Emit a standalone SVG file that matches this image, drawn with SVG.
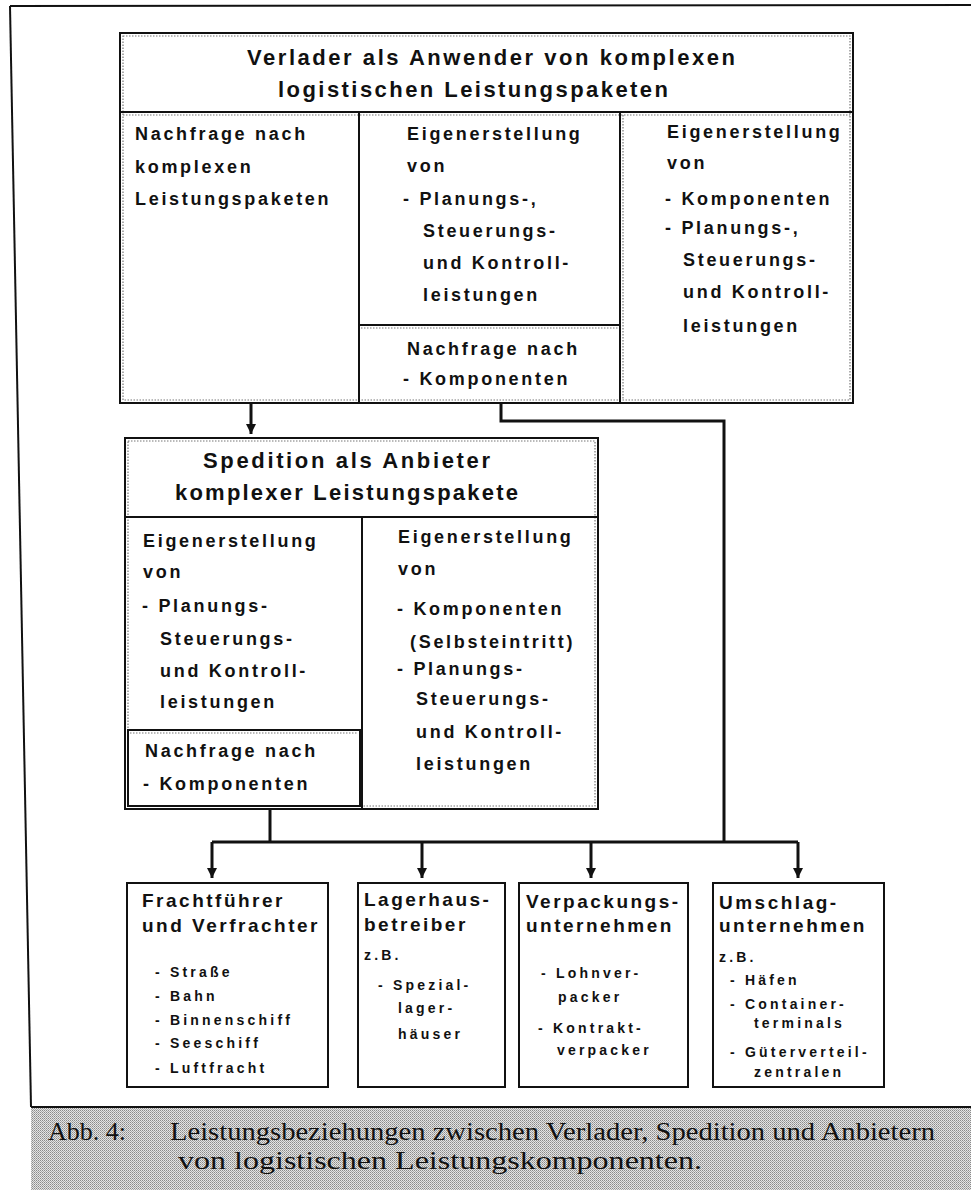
<svg xmlns="http://www.w3.org/2000/svg" width="971" height="1190" viewBox="0 0 971 1190">
<style>
.bx{fill:#fff;stroke:#111;stroke-width:2}
.dot{fill:none;stroke:#777;stroke-width:1.2;stroke-dasharray:1.5 1.5}
.ln{stroke:#111;stroke-width:2;fill:none}
.b{font-family:"Liberation Sans",Arial,sans-serif;font-weight:bold;font-size:18px;letter-spacing:2.7px;fill:#111}
.t{font-family:"Liberation Sans",Arial,sans-serif;font-weight:bold;font-size:22px;fill:#111}
.h{font-family:"Liberation Sans",Arial,sans-serif;font-weight:bold;font-size:19px;letter-spacing:2.5px;fill:#111}
.s{font-family:"Liberation Sans",Arial,sans-serif;font-weight:bold;font-size:14px;letter-spacing:3.2px;fill:#111}
.cap{font-family:"Liberation Serif","Times New Roman",serif;font-size:26px;fill:#111}
.con{stroke:#111;stroke-width:3;fill:none}
</style>
<defs>
<marker id="ah" markerUnits="userSpaceOnUse" markerWidth="12" markerHeight="12" viewBox="0 0 12 12" refX="6" refY="11" orient="auto-start-reverse">
<path d="M1,1 L11,1 L6,11 Z" fill="#111" transform="rotate(-90 6 6)"/>
</marker>
<marker id="ad" markerUnits="userSpaceOnUse" markerWidth="12" markerHeight="12" viewBox="0 0 12 12" refX="6" refY="11" orient="0">
<path d="M1,1 L11,1 L6,11 Z" fill="#111"/>
</marker>
<pattern id="stip" width="2" height="2" patternUnits="userSpaceOnUse">
<rect width="2" height="2" fill="#e4e4e4"/>
<rect width="1" height="1" fill="#8a8a8a"/>
<rect x="1" y="1" width="1" height="1" fill="#a8a8a8"/>
</pattern>
</defs>

<g id="page">
<line x1="10" y1="6" x2="971" y2="5" class="ln"/>
<line x1="10" y1="6" x2="31" y2="1107" class="ln"/>
</g>

<g id="verlader">
<rect class="bx" x="120" y="33" width="733" height="370"/>
<rect class="dot" x="123" y="36" width="727" height="364"/>
<line class="ln" x1="120" y1="112" x2="853" y2="112"/>
<line class="dot" x1="123" y1="115" x2="850" y2="115"/>
<line class="ln" x1="359" y1="112" x2="359" y2="403"/>
<line class="ln" x1="620" y1="112" x2="620" y2="403"/>
<line class="dot" x1="623" y1="115" x2="623" y2="400"/>
<line class="ln" x1="359" y1="325" x2="620" y2="325"/>
<line class="dot" x1="361" y1="328" x2="618" y2="328"/>
<text class="t" x="247" y="65" textLength="488" lengthAdjust="spacing">Verlader als Anwender von komplexen</text>
<text class="t" x="278" y="97" textLength="390" lengthAdjust="spacing">logistischen Leistungspaketen</text>
<text class="b" x="135" y="140">Nachfrage nach</text>
<text class="b" x="135" y="173">komplexen</text>
<text class="b" x="135" y="205">Leistungspaketen</text>
<text class="b" x="407" y="140">Eigenerstellung</text>
<text class="b" x="407" y="172">von</text>
<text class="b" x="403" y="205">- Planungs-,</text>
<text class="b" x="423" y="237">Steuerungs-</text>
<text class="b" x="423" y="269">und Kontroll-</text>
<text class="b" x="423" y="301">leistungen</text>
<text class="b" x="407" y="355">Nachfrage nach</text>
<text class="b" x="403" y="385">- Komponenten</text>
<text class="b" x="667" y="138">Eigenerstellung</text>
<text class="b" x="667" y="169">von</text>
<text class="b" x="665" y="205">- Komponenten</text>
<text class="b" x="665" y="234">- Planungs-,</text>
<text class="b" x="683" y="266">Steuerungs-</text>
<text class="b" x="683" y="298">und Kontroll-</text>
<text class="b" x="683" y="332">leistungen</text>
</g>

<g id="spedition">
<rect class="bx" x="125" y="438" width="473" height="371"/>
<rect class="dot" x="128" y="441" width="467" height="365"/>
<line class="ln" x1="125" y1="517" x2="598" y2="517"/>
<line class="ln" x1="362" y1="517" x2="362" y2="809"/>
<rect class="bx" x="128" y="730" width="232" height="76"/>
<line class="dot" x1="130" y1="733" x2="358" y2="733"/>
<text class="t" x="203" y="468" textLength="287" lengthAdjust="spacing">Spedition als Anbieter</text>
<text class="t" x="175" y="500" textLength="343" lengthAdjust="spacing">komplexer Leistungspakete</text>
<text class="b" x="143" y="547">Eigenerstellung</text>
<text class="b" x="143" y="578">von</text>
<text class="b" x="142" y="612">- Planungs-</text>
<text class="b" x="160" y="645">Steuerungs-</text>
<text class="b" x="160" y="677">und Kontroll-</text>
<text class="b" x="160" y="708">leistungen</text>
<text class="b" x="145" y="757">Nachfrage nach</text>
<text class="b" x="143" y="790">- Komponenten</text>
<text class="b" x="398" y="543">Eigenerstellung</text>
<text class="b" x="398" y="575">von</text>
<text class="b" x="397" y="615">- Komponenten</text>
<text class="b" x="410" y="648">(Selbsteintritt)</text>
<text class="b" x="397" y="675">- Planungs-</text>
<text class="b" x="416" y="705">Steuerungs-</text>
<text class="b" x="416" y="738">und Kontroll-</text>
<text class="b" x="416" y="770">leistungen</text>
</g>

<g id="frachtfuehrer">
<rect class="bx" x="127" y="883" width="201" height="204"/>
<text class="h" x="142" y="907">Frachtführer</text>
<text class="h" x="142" y="932">und Verfrachter</text>
<text class="s" x="155" y="977">- Straße</text>
<text class="s" x="155" y="1001">- Bahn</text>
<text class="s" x="155" y="1025">- Binnenschiff</text>
<text class="s" x="155" y="1048">- Seeschiff</text>
<text class="s" x="155" y="1073">- Luftfracht</text>
</g>

<g id="lagerhaus">
<rect class="bx" x="358" y="883" width="147" height="204"/>
<text class="h" x="364" y="906">Lagerhaus-</text>
<text class="h" x="364" y="931">betreiber</text>
<text class="s" x="364" y="960">z.B.</text>
<text class="s" x="378" y="990">- Spezial-</text>
<text class="s" x="398" y="1013">lager-</text>
<text class="s" x="398" y="1039">häuser</text>
</g>

<g id="verpackung">
<rect class="bx" x="519" y="883" width="169" height="204"/>
<text class="h" x="526" y="908">Verpackungs-</text>
<text class="h" x="526" y="932">unternehmen</text>
<text class="s" x="541" y="978">- Lohnver-</text>
<text class="s" x="558" y="1002">packer</text>
<text class="s" x="538" y="1033">- Kontrakt-</text>
<text class="s" x="557" y="1055">verpacker</text>
</g>

<g id="umschlag">
<rect class="bx" x="713" y="883" width="171" height="204"/>
<text class="h" x="719" y="909">Umschlag-</text>
<text class="h" x="719" y="932">unternehmen</text>
<text class="s" x="719" y="962">z.B.</text>
<text class="s" x="730" y="985">- Häfen</text>
<text class="s" x="730" y="1009">- Container-</text>
<text class="s" x="754" y="1028">terminals</text>
<text class="s" x="730" y="1057">- Güterverteil-</text>
<text class="s" x="754" y="1077">zentralen</text>
</g>

<g id="connectors">
<line class="con" x1="251" y1="404" x2="251" y2="434" marker-end="url(#ad)"/>
<polyline class="con" points="501,404 501,421 724,421 724,842"/>
<line class="con" x1="270" y1="810" x2="270" y2="842"/>
<line class="con" x1="212" y1="842" x2="798" y2="842"/>
<line class="con" x1="212" y1="842" x2="212" y2="878" marker-end="url(#ad)"/>
<line class="con" x1="422" y1="842" x2="422" y2="878" marker-end="url(#ad)"/>
<line class="con" x1="591" y1="842" x2="591" y2="878" marker-end="url(#ad)"/>
<line class="con" x1="798" y1="842" x2="798" y2="878" marker-end="url(#ad)"/>
</g>

<g id="caption">
<rect x="31" y="1107" width="940" height="83" fill="url(#stip)"/>
<line class="ln" x1="31" y1="1107" x2="971" y2="1107"/>
<text class="cap" x="48" y="1140">Abb. 4:</text>
<text class="cap" x="170" y="1140" textLength="765" lengthAdjust="spacingAndGlyphs">Leistungsbeziehungen zwischen Verlader, Spedition und Anbietern</text>
<text class="cap" x="178" y="1169" textLength="524" lengthAdjust="spacingAndGlyphs">von logistischen Leistungskomponenten.</text>
</g>
</svg>
